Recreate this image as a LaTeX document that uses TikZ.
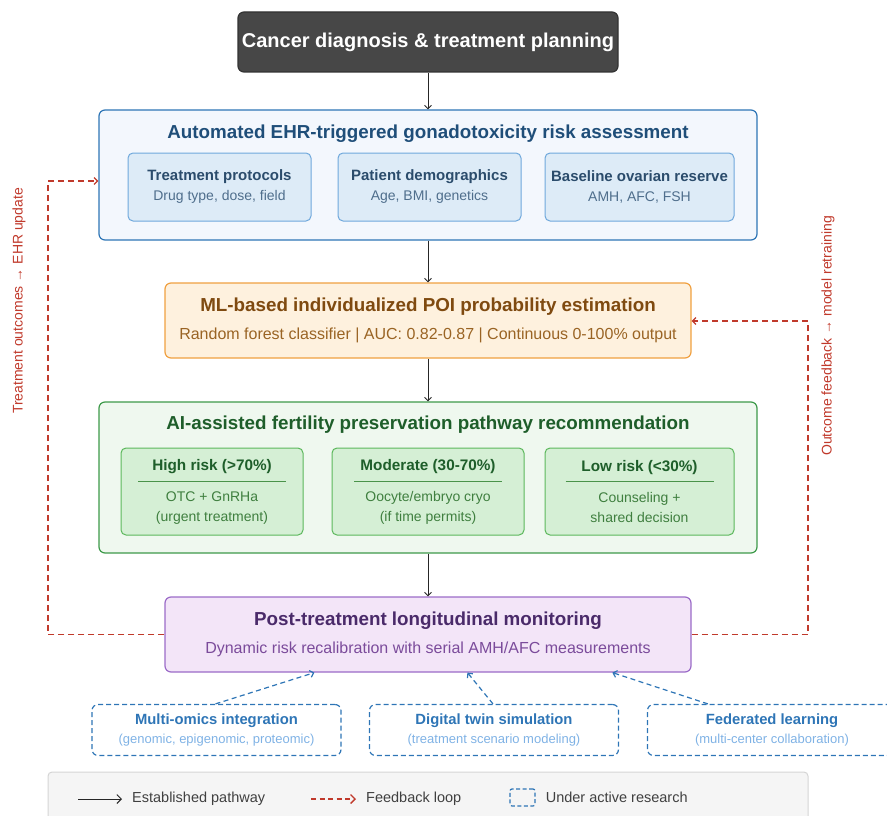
\documentclass[tikz,border=0pt]{standalone}
\usepackage{fontspec}
\setmainfont{Liberation Sans}
\usetikzlibrary{arrows.meta,positioning}

\definecolor{topgray}{HTML}{474747}
\definecolor{ehrline}{HTML}{2E75B6}
\definecolor{ehrfill}{HTML}{F3F7FD}
\definecolor{ehrtext}{HTML}{1F4E79}
\definecolor{inputfill}{HTML}{DDEBF7}
\definecolor{inputline}{HTML}{6FA8DC}
\definecolor{inputtext}{HTML}{2B4C6C}
\definecolor{inputsub}{HTML}{4F6E8C}
\definecolor{mlline}{HTML}{F0A040}
\definecolor{mlfill}{HTML}{FEF1DE}
\definecolor{mltext}{HTML}{7F4A10}
\definecolor{mlsub}{HTML}{9A6424}
\definecolor{recline}{HTML}{3D9A4A}
\definecolor{recfill}{HTML}{EFF8EF}
\definecolor{rectext}{HTML}{1E5E2A}
\definecolor{riskfill}{HTML}{D5EFD5}
\definecolor{riskline}{HTML}{5CB85C}
\definecolor{risksub}{HTML}{3F7F3F}
\definecolor{monline}{HTML}{9B6BC8}
\definecolor{monfill}{HTML}{F3E5F8}
\definecolor{montext}{HTML}{4A2A6A}
\definecolor{monsub}{HTML}{7B4B9B}
\definecolor{resblue}{HTML}{2E75B6}
\definecolor{ressub}{HTML}{7FB2E5}
\definecolor{fbred}{HTML}{C0392B}
\definecolor{legfill}{HTML}{F5F5F5}
\definecolor{legline}{HTML}{D5D5D5}

\begin{document}
\begin{tikzpicture}[x=1pt,y=-1pt,>={Straight Barb[length=3.5pt,width=7pt]},
    every node/.style={inner sep=0pt},
    box/.style={draw,rounded corners=6pt,line width=1.2pt},
    inputbox/.style={box,line width=1pt,draw=inputline,fill=inputfill,rounded corners=5pt,
        minimum height=68pt,align=center,font=\fontsize{14}{20}\selectfont,text=inputsub},
    riskbox/.style={box,line width=1pt,draw=riskline,fill=riskfill,rounded corners=5pt,
        minimum height=87pt,align=center,font=\fontsize{14}{20}\selectfont,text=risksub},
    resbox/.style={box,draw=resblue,dash pattern=on 5pt off 3pt,minimum width=249pt,
        minimum height=51pt,align=center,font=\fontsize{13}{19}\selectfont,text=ressub},
    flow/.style={->,line width=0.9pt,black!85},
    fb/.style={->,line width=1.2pt,fbred,dash pattern=on 6pt off 4pt},
    probe/.style={->,line width=1.2pt,resblue,dash pattern=on 5pt off 3.5pt},
    bigtip/.style={-{Straight Barb[length=4.5pt,width=9pt]}},
    fblabel/.style={rotate=90,text=fbred,font=\fontsize{14}{16}\selectfont},
    legtext/.style={text=black!75,font=\fontsize{14.5}{16}\selectfont}]
    \useasboundingbox (0,0) rectangle (887,816);

    % start
    \node[box,draw=black!80,fill=topgray,minimum width=380pt,minimum height=60pt,
        text=white,font=\fontsize{20}{23}\selectfont\bfseries] (diag) at (428,42)
        {Cancer diagnosis \& treatment planning};

    % EHR risk assessment
    \node[box,draw=ehrline,fill=ehrfill,minimum width=658pt,minimum height=130pt] (ehr) at (428,175) {};
    \node[text=ehrtext,font=\fontsize{18.8}{22}\selectfont\bfseries] (ehrtitle) at (428,134)
        {Automated EHR-triggered gonadotoxicity risk assessment};
    \node[inputbox,minimum width=183pt] (proto) at (219.5,187)
        {{\fontsize{15}{20}\selectfont\bfseries\color{inputtext}Treatment protocols}\\Drug type, dose, field};
    \node[inputbox,minimum width=183pt] (demo) at (429.5,187)
        {{\fontsize{15}{20}\selectfont\bfseries\color{inputtext}Patient demographics}\\Age, BMI, genetics};
    \node[inputbox,minimum width=189pt] (reserve) at (639.5,187)
        {{\fontsize{15}{20}\selectfont\bfseries\color{inputtext}Baseline ovarian reserve}\\AMH, AFC, FSH};

    % ML estimation
    \node[box,draw=mlline,fill=mlfill,minimum width=526pt,minimum height=75pt,align=center,
        text=mlsub,font=\fontsize{16}{28}\selectfont] (ml) at (428,320.5)
        {{\fontsize{18.8}{28}\selectfont\bfseries\color{mltext}ML-based individualized POI probability estimation}\\
         Random forest classifier | AUC: 0.82-0.87 | Continuous 0-100\% output};

    % pathway recommendation
    \node[box,draw=recline,fill=recfill,minimum width=658pt,minimum height=151pt] (rec) at (428,477.5) {};
    \node[text=rectext,font=\fontsize{18.8}{22}\selectfont\bfseries] (rectitle) at (428,425)
        {AI-assisted fertility preservation pathway recommendation};
    \node[riskbox,minimum width=182pt] (high) at (212,491.5)
        {{\fontsize{15.3}{20}\selectfont\bfseries\color{rectext}High risk (>70\%)}\\[11pt]OTC + GnRHa\\(urgent treatment)};
    \node[riskbox,minimum width=192pt] (mod) at (428,491.5)
        {{\fontsize{15.3}{20}\selectfont\bfseries\color{rectext}Moderate (30-70\%)}\\[11pt]Oocyte/embryo cryo\\(if time permits)};
    \node[riskbox,minimum width=189pt] (low) at (639.5,491.5)
        {{\fontsize{15.3}{20}\selectfont\bfseries\color{rectext}Low risk (<30\%)}\\[11pt]Counseling +\\shared decision};
    \foreach \r in {high,mod,low}
        \draw[riskline!80!black,line width=1pt] ([xshift=-74pt,yshift=10.5pt]\r.center) -- ([xshift=74pt,yshift=10.5pt]\r.center);

    % monitoring
    \node[box,draw=monline,fill=monfill,minimum width=526pt,minimum height=75pt,align=center,
        text=monsub,font=\fontsize{16}{28}\selectfont] (mon) at (428,634.5)
        {{\fontsize{18.8}{28}\selectfont\bfseries\color{montext}Post-treatment longitudinal monitoring}\\
         Dynamic risk recalibration with serial AMH/AFC measurements};

    % research directions
    \node[resbox] (omics) at (216.5,730)
        {{\fontsize{14.8}{19}\selectfont\bfseries\color{resblue}Multi-omics integration}\\(genomic, epigenomic, proteomic)};
    \node[resbox] (twin) at (494,730)
        {{\fontsize{14.8}{19}\selectfont\bfseries\color{resblue}Digital twin simulation}\\(treatment scenario modeling)};
    \node[resbox] (fed) at (772,730)
        {{\fontsize{14.8}{19}\selectfont\bfseries\color{resblue}Federated learning}\\(multi-center collaboration)};

    % main pathway
    \draw[flow] (diag) -- (ehr);
    \draw[flow] (ehr) -- (ml);
    \draw[flow] (ml) -- (rec);
    \draw[flow] (rec) -- (mon);

    % research inputs
    \draw[probe] ([xshift=-1pt]omics.north) -- ([xshift=150pt]mon.south west);
    \draw[probe] ([xshift=-1pt]twin.north) -- ([xshift=303pt]mon.south west);
    \draw[probe] ([xshift=61pt]fed.north west) -- ([xshift=448pt]mon.south west);

    % feedback loops
    \coordinate (fbL) at (48,181);
    \coordinate (fbR) at (808,321);
    \draw[fb] (mon.west) -| (fbL) -- (ehr.west |- fbL);
    \draw[fb] (mon.east) -| (fbR) -- (ml.east |- fbR);
    \node[fblabel] (fbLtext) at (19,301) {Treatment outcomes → EHR update};
    \node[fblabel] (fbRtext) at (828,336) {Outcome feedback → model retraining};

    % legend
    \node[draw=legline,fill=legfill,line width=1pt,rounded corners=4pt,minimum width=760pt,
        minimum height=58pt] (legend) at (428,801) {};
    \coordinate (lgA) at (78,799);
    \coordinate (lgB) at (122,799);
    \coordinate (lgC) at (311,799);
    \coordinate (lgD) at (356,799);
    \draw[flow,bigtip] (lgA) -- (lgB);
    \draw[fb,bigtip,line width=1.3pt,dash pattern=on 5pt off 3.5pt] (lgC) -- (lgD);
    \node[draw=resblue,line width=1.2pt,dash pattern=on 4pt off 2.5pt,rounded corners=2pt,
        minimum width=25pt,minimum height=17pt] (lgbox) at (522.5,797.5) {};
    \node[right=10pt of lgB,legtext] (lgtext1) {Established pathway};
    \node[right=10pt of lgD,legtext] (lgtext2) {Feedback loop};
    \node[right=10pt of lgbox,legtext] (lgtext3) {Under active research};
\end{tikzpicture}
\end{document}
